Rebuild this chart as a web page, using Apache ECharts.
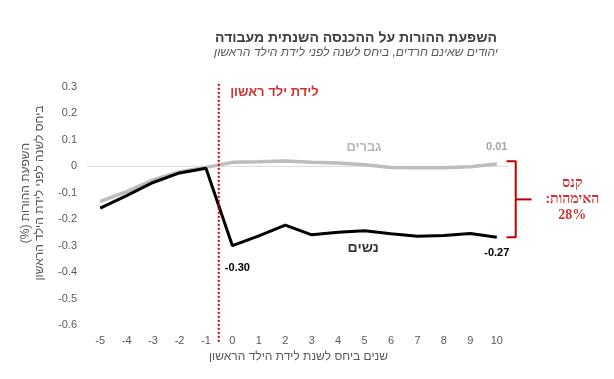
<!DOCTYPE html>
<html>
<head>
<meta charset="utf-8">
<script src="https://cdn.jsdelivr.net/npm/echarts@6/dist/echarts.min.js"></script>
<style>html,body{margin:0;padding:0;background:#fff}#c{width:614px;height:379px}</style>
</head>
<body>
<div id="c"></div>
<script>
const years = ['-5','-4','-3','-2','-1','0','1','2','3','4','5','6','7','8','9','10'];
const women = [-0.158,-0.111,-0.061,-0.025,-0.007,-0.300,-0.263,-0.222,-0.259,-0.249,-0.244,-0.255,-0.264,-0.262,-0.254,-0.268];
const men   = [-0.133,-0.096,-0.051,-0.020,-0.004,0.015,0.017,0.020,0.015,0.013,0.006,-0.004,-0.005,-0.005,-0.002,0.009];
const yTicks = {min:-0.6, max:0.3, step:0.1};
const birthBoundary = -0.5;
const penalty = {top:0.019, bottom:-0.268, mid:-0.125};
const labelWomen0 = '-0.30', labelWomenEnd = '-0.27', labelMenEnd = '0.01';

const FONT = "'Liberation Sans', 'DejaVu Sans', sans-serif";
const SERIF = "'Liberation Serif', 'DejaVu Serif', serif";
const RLM = '\u200F';

const chart = echarts.init(document.getElementById('c'), null, {renderer:'canvas'});

const womenData = women.map((v,i)=>{
  if(i===5) return {value:v,label:{show:true,formatter:labelWomen0,position:'bottom',distance:15,offset:[5,2]}};
  if(i===women.length-1) return {value:v,label:{show:true,formatter:labelWomenEnd,position:'bottom',distance:10}};
  return v;
});
const menData = men.map((v,i)=>{
  if(i===men.length-1) return {value:v,label:{show:true,formatter:labelMenEnd,position:'top',distance:11}};
  return v;
});

const textItems = [
  {value:[1.61,0.281], text:'לידת ילד ראשון', color:'#C00000', size:13, font:FONT},
  {value:[5.01,0.073], text:'גברים', color:'#A6A6A6', size:13, font:FONT},
  {value:[4.98,-0.309], text:'נשים', color:'#000000', size:14, font:FONT},
  {value:[12.92,-0.124], text:'קנס\nהאימהות:'+RLM+'\n28%', color:'#C00000', size:14, font:SERIF}
];

const G = {left:87, right:104, top:87, bottom:54};
const unit = (614 - G.left - G.right) / 16;

chart.setOption({
  animation:false,
  backgroundColor:'#ffffff',
  graphic:[
    {type:'text',x:356,y:31,style:{text:'השפעת ההורות על ההכנסה השנתית מעבודה',
      textAlign:'center',font:"bold 14px "+FONT,fill:'#404040'}},
    {type:'text',x:356,y:47,style:{text:'יהודים שאינם חרדים, ביחס לשנה לפני לידת הילד הראשון',
      textAlign:'center',font:"italic 12px "+FONT,fill:'#595959'}}
  ],
  grid:[
    {left:G.left,right:G.right,top:G.top,bottom:G.bottom},
    {left:G.left,width:unit*20,top:G.top,bottom:G.bottom}
  ],
  xAxis:[
    {type:'category',gridIndex:0,data:years,boundaryGap:true,
     axisLine:{show:false},axisTick:{show:false},
     axisLabel:{color:'#595959',fontFamily:FONT,fontSize:11,margin:10},
     name:'שנים ביחס לשנת לידת הילד הראשון',nameLocation:'middle',nameGap:25,
     nameTextStyle:{color:'#595959',fontFamily:FONT,fontSize:12}},
    {type:'value',gridIndex:1,min:-5.5,max:14.5,show:false}
  ],
  yAxis:[
    {type:'value',gridIndex:0,min:yTicks.min,max:yTicks.max,interval:yTicks.step,
    axisLine:{show:false},axisTick:{show:false},splitLine:{show:false},
    axisLabel:{color:'#595959',fontFamily:FONT,fontSize:11,margin:10,
      formatter:v=>{const r=Math.round(v*10)/10; return r===0?'0':String(r);}},
    name:RLM+'השפעת ההורות (%)'+RLM+'\n'+'ביחס לשנה לפני לידת הילד הראשון',
    nameLocation:'middle',nameGap:36,nameRotate:90,
    nameTextStyle:{color:'#595959',fontFamily:FONT,fontSize:12,lineHeight:14,padding:[0,0,0,26]}},
    {type:'value',gridIndex:1,min:yTicks.min,max:yTicks.max,show:false}
  ],
  series:[
    {type:'line',xAxisIndex:1,yAxisIndex:1,data:[[-5.5,0],[10.5,0]],symbol:'none',silent:true,z:1,
     lineStyle:{color:'#D9D9D9',width:1}},
    {type:'line',name:'גברים',data:menData,symbol:'circle',symbolSize:0,showSymbol:true,z:3,
     itemStyle:{color:'transparent',borderWidth:0},
     lineStyle:{color:'#BDBDBD',width:3.5},
     label:{show:false,color:'#A6A6A6',fontFamily:FONT,fontSize:11,fontWeight:'bold'}},
    {type:'line',name:'נשים',data:womenData,symbol:'circle',symbolSize:0,showSymbol:true,z:4,
     itemStyle:{color:'transparent',borderWidth:0},
     lineStyle:{color:'#000000',width:3},
     label:{show:false,color:'#000000',fontFamily:FONT,fontSize:11,fontWeight:'bold'}},
    {type:'line',xAxisIndex:1,yAxisIndex:1,clip:false,symbol:'none',silent:true,z:5,
     data:[[birthBoundary,0.312],[birthBoundary,-0.665]],
     lineStyle:{color:'#C00000',width:2,type:[2,2]}},
    {type:'line',xAxisIndex:1,yAxisIndex:1,clip:false,symbol:'none',silent:true,z:5,
     data:[[10.42,penalty.top],[10.77,penalty.top],[10.77,penalty.bottom],[10.42,penalty.bottom]],
     lineStyle:{color:'#C00000',width:2}},
    {type:'line',xAxisIndex:1,yAxisIndex:1,clip:false,symbol:'none',silent:true,z:5,
     data:[[10.77,penalty.mid],[11.37,penalty.mid]],
     lineStyle:{color:'#C00000',width:2}},
    {type:'scatter',xAxisIndex:1,yAxisIndex:1,clip:false,symbolSize:0,silent:true,z:6,
     data:textItems.map(t=>({value:t.value,label:{show:true,position:'inside',formatter:t.text,
       color:t.color,fontSize:t.size,fontWeight:'bold',fontFamily:t.font,lineHeight:16,align:'center'}}))}
  ]
});
</script>
</body>
</html>
